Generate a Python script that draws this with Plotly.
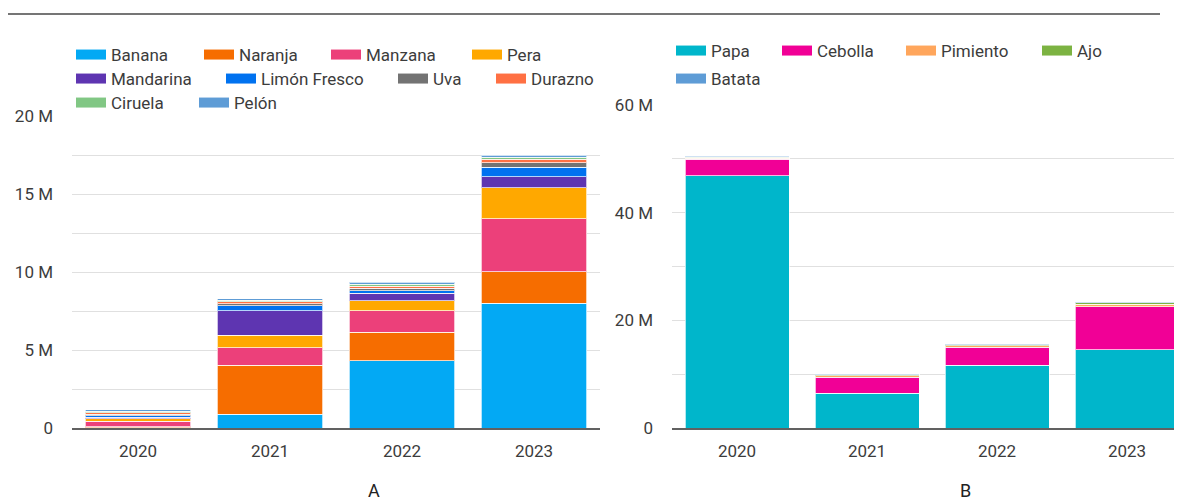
import plotly.graph_objects as go

years = ["2020", "2021", "2022", "2023"]

# Panel A (fruits), values in units
fruit_names = ["Banana", "Naranja", "Manzana", "Pera", "Mandarina",
               "Limón Fresco", "Uva", "Durazno", "Ciruela", "Pelón"]
banana    = [0.03e6, 0.88e6, 4.30e6, 8.00e6]
naranja   = [0.05e6, 3.15e6, 1.85e6, 2.03e6]
manzana   = [0.35e6, 1.10e6, 1.38e6, 3.38e6]
pera      = [0.15e6, 0.80e6, 0.62e6, 2.00e6]
mandarina = [0.10e6, 1.60e6, 0.48e6, 0.70e6]
limon     = [0.10e6, 0.30e6, 0.18e6, 0.60e6]
uva       = [0.10e6, 0.12e6, 0.14e6, 0.28e6]
durazno   = [0.10e6, 0.13e6, 0.15e6, 0.25e6]
ciruela   = [0.10e6, 0.10e6, 0.12e6, 0.12e6]
pelon     = [0.08e6, 0.12e6, 0.12e6, 0.12e6]
fruit_values = [banana, naranja, manzana, pera, mandarina,
                limon, uva, durazno, ciruela, pelon]
fruit_colors = ["#03A9F4", "#F66D00", "#EC407A", "#FFA800", "#5E35B1",
                "#0072F0", "#737373", "#FF7043", "#81C784", "#5E9CD6"]

# Panel B (vegetables)
veg_names = ["Papa", "Cebolla", "Pimiento", "Ajo", "Batata"]
papa     = [46.9e6, 6.45e6, 11.65e6, 14.5e6]
cebolla  = [3.05e6, 2.97e6, 3.34e6, 8.05e6]
pimiento = [0.20e6, 0.25e6, 0.25e6, 0.45e6]
ajo      = [0.15e6, 0.20e6, 0.20e6, 0.25e6]
batata   = [0.15e6, 0.15e6, 0.20e6, 0.20e6]
veg_values = [papa, cebolla, pimiento, ajo, batata]
veg_colors = ["#00B6CB", "#F10096", "#FFA65C", "#7CB342", "#5E9CD6"]

# Axis tick labels
a_tickvals = [0, 2.5e6, 5e6, 7.5e6, 10e6, 12.5e6, 15e6, 17.5e6, 20e6]
a_ticktext = ["0", "", "5 M", "", "10 M", "", "15 M", "", "20 M"]
b_tickvals = [0, 10e6, 20e6, 30e6, 40e6, 50e6, 60e6]
b_ticktext = ["0", "", "20 M", "", "40 M", "", "60 M"]

panel_titles = ["A", "B"]

W, H = 1182, 500
OX, OY = 8, 8          # page offset of the figure inside the window
FONT = "Roboto"
TXT = "#3c3c3c"
FS = 17


def px(x):
    return (x - OX) / W


def py(y):
    return 1 - (y - OY) / H


# legend item positions in window pixels (swatch left, row center)
fruit_leg_pos = [(72, 55), (200, 55), (327, 55), (468, 55),
                 (72, 79), (222, 79), (394, 79), (492, 79),
                 (72, 103), (195, 103)]
veg_leg_pos = [(672, 51), (778, 51), (902, 51), (1038, 51), (672, 79)]

fig = go.Figure()
legend_layouts = {}
leg_idx = [0]


def add_legend_entry(name, color, xa, ya, pos):
    leg_idx[0] += 1
    key = "legend" if leg_idx[0] == 1 else f"legend{leg_idx[0]}"
    fig.add_trace(go.Scatter(x=[None], y=[None], mode="lines", name=name,
                             line=dict(color=color, width=16),
                             xaxis=xa, yaxis=ya, legend=key,
                             showlegend=True, hoverinfo="skip"))
    lx, ly = pos
    legend_layouts[key] = dict(
        x=px(lx - 1), y=py(ly), xanchor="left", yanchor="middle",
        orientation="h", bgcolor="rgba(0,0,0,0)", borderwidth=0,
        font=dict(family=FONT, size=FS, color=TXT))


for name, vals, col in zip(fruit_names, fruit_values, fruit_colors):
    fig.add_trace(go.Bar(x=years, y=vals, name=name, marker_color=col,
                         marker_line=dict(color="rgba(255,255,255,0.7)", width=1),
                         xaxis="x", yaxis="y", showlegend=False))
for name, vals, col in zip(veg_names, veg_values, veg_colors):
    fig.add_trace(go.Bar(x=years, y=vals, name=name, marker_color=col,
                         marker_line=dict(color="rgba(255,255,255,0.7)", width=1),
                         xaxis="x2", yaxis="y2", showlegend=False))

for name, col, pos in zip(fruit_names, fruit_colors, fruit_leg_pos):
    add_legend_entry(name, col, "x", "y", pos)
for name, col, pos in zip(veg_names, veg_colors, veg_leg_pos):
    add_legend_entry(name, col, "x2", "y2", pos)

axis_common = dict(tickfont=dict(family=FONT, size=FS, color=TXT), automargin=False)

fig.update_layout(
    width=W, height=H,
    margin=dict(l=0, r=0, t=0, b=0, autoexpand=False),
    paper_bgcolor="white", plot_bgcolor="white",
    barmode="stack", bargap=0.2,
    font=dict(family=FONT, size=FS, color=TXT),
    xaxis=dict(domain=[px(72), px(600)], type="category", range=[-0.5, 3.5],
               showline=True, linecolor="#616161", linewidth=2,
               showgrid=False, ticks="", ticklabelstandoff=7, **axis_common),
    yaxis=dict(domain=[py(428), py(116)], range=[0, 20e6],
               tickmode="array", tickvals=a_tickvals, ticktext=a_ticktext,
               showgrid=True, gridcolor="#e0e0e0", gridwidth=1,
               zeroline=False, ticks="", ticklabelstandoff=18, **axis_common),
    xaxis2=dict(domain=[px(672), px(1182)], type="category", range=[-0.5, 3.423],
                showline=True, linecolor="#616161", linewidth=2,
                showgrid=False, ticks="", ticklabelstandoff=7, anchor="y2",
                **axis_common),
    yaxis2=dict(domain=[py(428), py(105)], range=[0, 60e6],
                tickmode="array", tickvals=b_tickvals, ticktext=b_ticktext,
                showgrid=True, gridcolor="#e0e0e0", gridwidth=1,
                zeroline=False, ticks="", ticklabelstandoff=18, anchor="x2",
                **axis_common),
    shapes=[dict(type="line", xref="paper", yref="paper",
                 x0=px(0), x1=px(1160), y0=py(14), y1=py(14),
                 line=dict(color="#757575", width=2))],
    annotations=[
        dict(text=panel_titles[0], x=px(374), y=py(490), xref="paper", yref="paper",
             xanchor="center", yanchor="middle",
             showarrow=False, font=dict(family=FONT, size=18, color="#222222")),
        dict(text=panel_titles[1], x=px(965), y=py(490), xref="paper", yref="paper",
             xanchor="center", yanchor="middle",
             showarrow=False, font=dict(family=FONT, size=18, color="#222222")),
    ],
    **legend_layouts,
)

fig.write_html("out.html")
